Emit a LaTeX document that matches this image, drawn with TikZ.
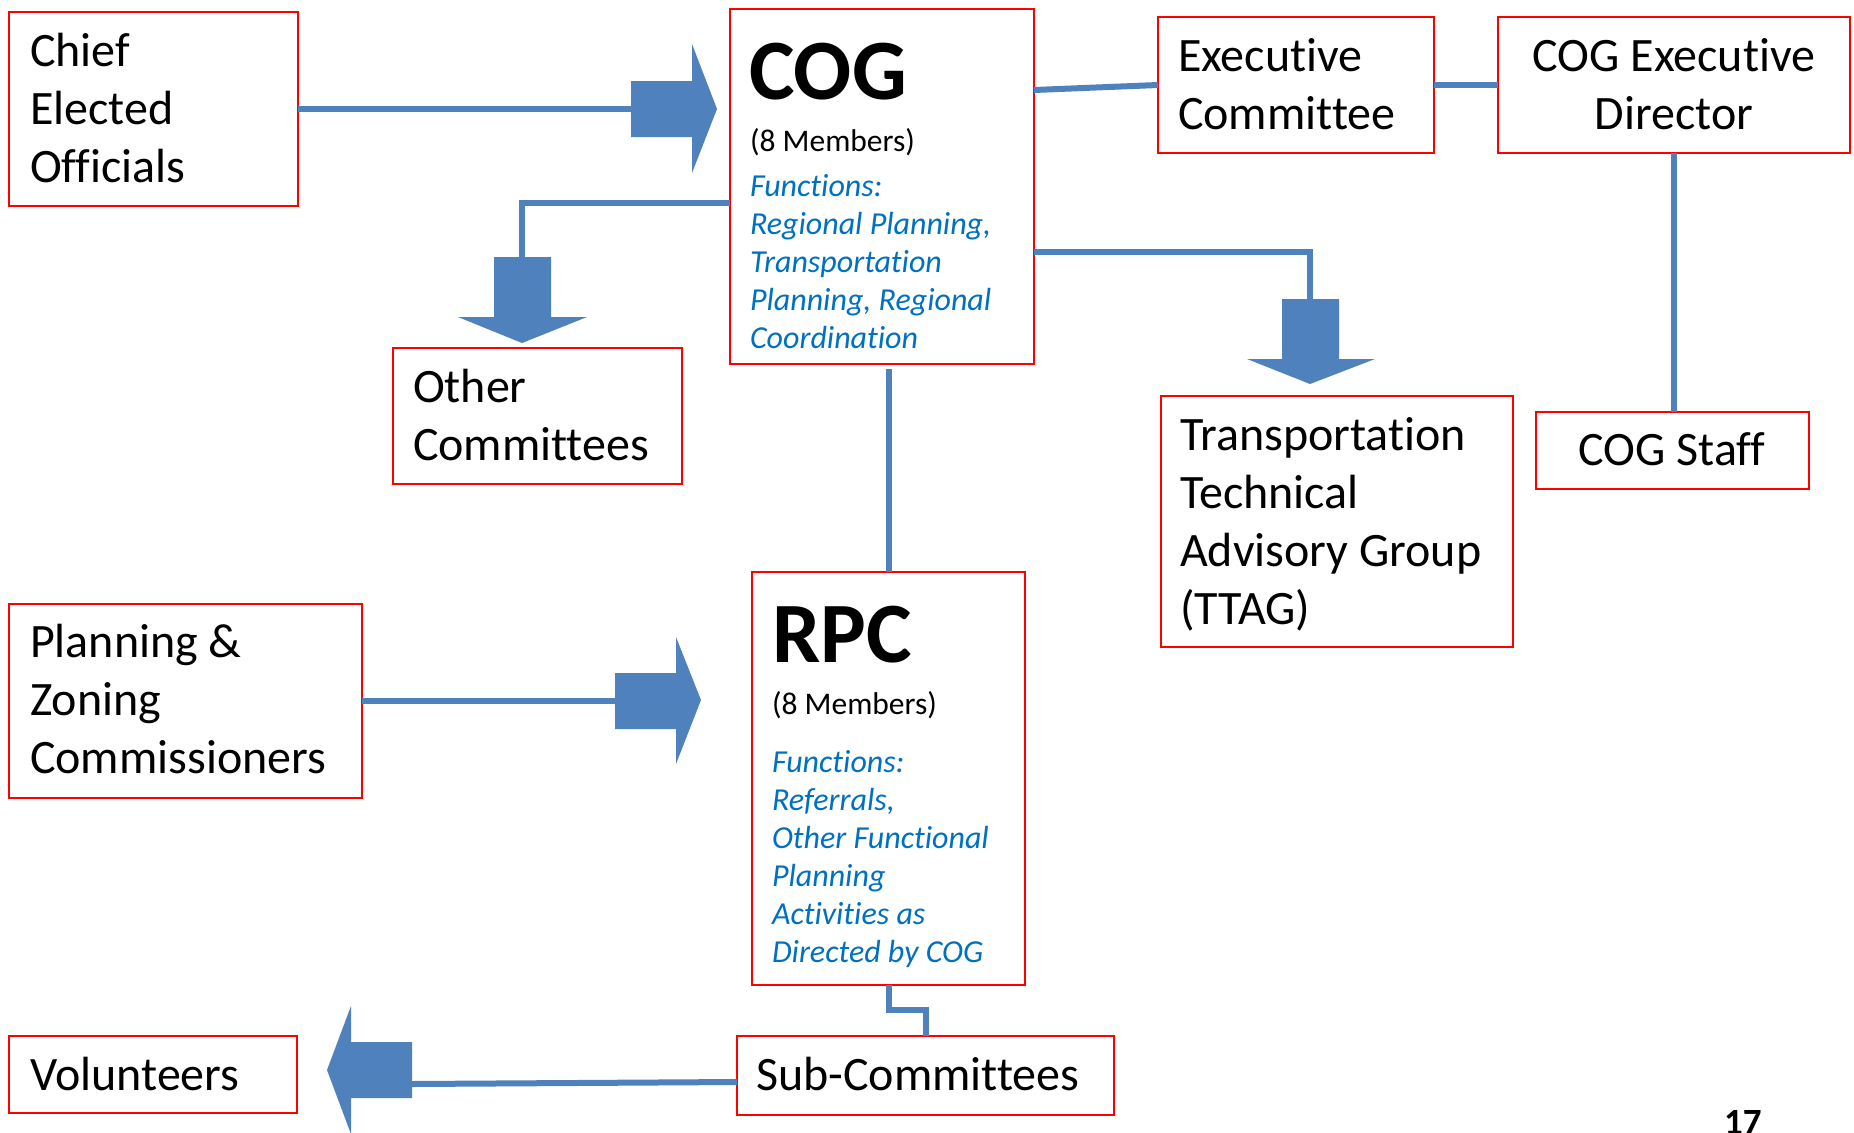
\documentclass[tikz,border=0pt]{standalone}
\usepackage{fontspec}
\setmainfont{Carlito}[Ligatures=NoCommon]
\usetikzlibrary{fit,calc}

\definecolor{boxred}{HTML}{FF0000}
\definecolor{linkblue}{HTML}{4F81BD}
\definecolor{funcblue}{HTML}{0070C0}

% text sizes
\newcommand\txtmain{\fontsize{48bp}{58bp}\selectfont}
\newcommand\txthead{\fontsize{86bp}{100bp}\selectfont\bfseries}
\newcommand\txtmem{\fontsize{31.5bp}{38bp}\selectfont}
\newcommand\txtfun{\fontsize{32bp}{38bp}\selectfont\itshape}
\newcommand\tlines[2]{\parbox[t]{#1}{\raggedright #2}}
\newcommand\clines[2]{\parbox[t]{#1}{\centering #2}}

\tikzset{
  box/.style={draw=boxred, line width=2.5bp, inner sep=0pt, outer sep=0pt},
  txt/.style={anchor=base west, inner sep=0pt, outer sep=0pt, font=\txtmain},
  ctxt/.style={anchor=base, inner sep=0pt, outer sep=0pt, font=\txtmain},
  functxt/.style={anchor=base west, inner sep=0pt, outer sep=0pt, font=\txtfun, text=funcblue},
  conn/.style={draw=linkblue, line width=6bp},
  blockarrow/.style={fill=linkblue},
}

\begin{document}
\begin{tikzpicture}[x=1bp, y=-1bp]
\useasboundingbox (0,0) rectangle (1854,1132);
\fill[white] (0,0) rectangle (1854,1132);

% ---- boxes ----
\node[box, fit={(9,12)(298,206)}] (chief) {};
\node[box, fit={(730,9)(1034,364)}] (cog) {};
\node[box, fit={(1158,17)(1434,153)}] (exec) {};
\node[box, fit={(1498,17)(1850,153)}] (dir) {};
\node[box, fit={(1536,412)(1809,489)}] (staff) {};
\node[box, fit={(1161,396)(1513,647)}] (ttag) {};
\node[box, fit={(393,348)(682,484)}] (other) {};
\node[box, fit={(752,572)(1025,985)}] (rpc) {};
\node[box, fit={(9,604)(362,798)}] (plan) {};
\node[box, fit={(9,1036)(297,1113)}] (vol) {};
\node[box, fit={(737,1036)(1114,1115)}] (sub) {};

% ---- texts ----
\node[txt] (chieftxt) at (30,66) {\tlines{260bp}{Chief\\Elected\\Officials}};

\node[txt, font=\txthead] (cogtitle) at (749,99) {COG};
\node[txt, font=\txtmem] (cogmem) at (750,151) {(8 Members)};
\node[functxt] (cogfun) at (750,196)
  {\tlines{300bp}{Functions:\\Regional Planning,\\Transportation\\Planning, Regional\\Coordination}};

\node[txt] (exectxt) at (1178,71) {\tlines{250bp}{Executive\\Committee}};
\node[ctxt] (dirtxt) at (1674,71) {\clines{350bp}{COG Executive\\Director}};
\node[ctxt] (stafftxt) at (1672,465) {COG Staff};
\node[txt] (ttagtxt) at (1180,450)
  {\tlines{330bp}{Transportation\\Technical\\Advisory Group\\(TTAG)}};
\node[txt] (othertxt) at (413,402) {\tlines{260bp}{Other\\Committees}};

\node[txt, font=\txthead] (rpctitle) at (772,662) {RPC};
\node[txt, font=\txtmem] (rpcmem) at (772,714) {(8 Members)};
\node[functxt] (rpcfun) at (772,772)
  {\tlines{300bp}{Functions:\\Referrals,\\Other Functional\\Planning\\Activities as\\Directed by COG}};

\node[txt] (plantxt) at (30,657) {\tlines{330bp}{Planning \&\\Zoning\\Commissioners}};
\node[txt] (voltxt) at (30,1090) {Volunteers};
\node[txt] (subtxt) at (756,1090) {Sub-Committees};

% page number, partly below the lower edge
\node[anchor=base west, inner sep=0pt, font=\fontsize{37bp}{44bp}\selectfont\bfseries] (pagenum) at (1724,1134) {17};

% ---- connector anchor points ----
\coordinate (a1) at (631,109);
\coordinate (a2) at (615,701);
\coordinate (k3) at (522,203);
\coordinate (a3) at (522,257);
\coordinate (k4) at (1310,252);
\coordinate (a4) at (1310,299);
\coordinate (k5) at (0,90);
\coordinate (k6) at ($(rpc.north |- cog.south)+(0,5)$);
\coordinate (k7) at (926,1010);
\coordinate (k8) at (412,1084);
\coordinate (k9) at (0,1082);

% ---- connectors ----
\draw[conn] (chief.east) -- (a1);
\draw[conn] (plan.east) -- (a2);
\draw[conn] (k3 -| cog.west) -- (k3) -- (a3);
\draw[conn] (k4 -| cog.east) -- (k4) -- (a4);
\draw[conn] (k5 -| cog.east) -- (exec.west);
\draw[conn] (exec.east) -- (dir.west);
\draw[conn] (dir.south) -- (dir.south |- staff.north);
\draw[conn] (k6) -- (rpc.north);
\draw[conn] (rpc.south) |- (k7) -- (k7 |- sub.north);
\draw[conn] (k9 -| sub.west) -- (k8);

% ---- block arrow heads ----
\fill[blockarrow] (631,81) -- (692,81) -- (692,44) -- (717,109) -- (692,173) -- (692,137) -- (631,137) -- cycle;
\fill[blockarrow] (615,673) -- (676,673) -- (676,637) -- (701,700) -- (676,764) -- (676,729) -- (615,729) -- cycle;
\fill[blockarrow] (494,257) -- (551,257) -- (551,317) -- (587,317) -- (522,343) -- (458,317) -- (494,317) -- cycle;
\fill[blockarrow] (1282,299) -- (1339,299) -- (1339,359) -- (1375,359) -- (1310,384) -- (1247,359) -- (1282,359) -- cycle;
\fill[blockarrow] (412,1042) -- (351,1042) -- (351,1006) -- (327,1070) -- (351,1134) -- (351,1098) -- (412,1098) -- cycle;
\end{tikzpicture}
\end{document}
